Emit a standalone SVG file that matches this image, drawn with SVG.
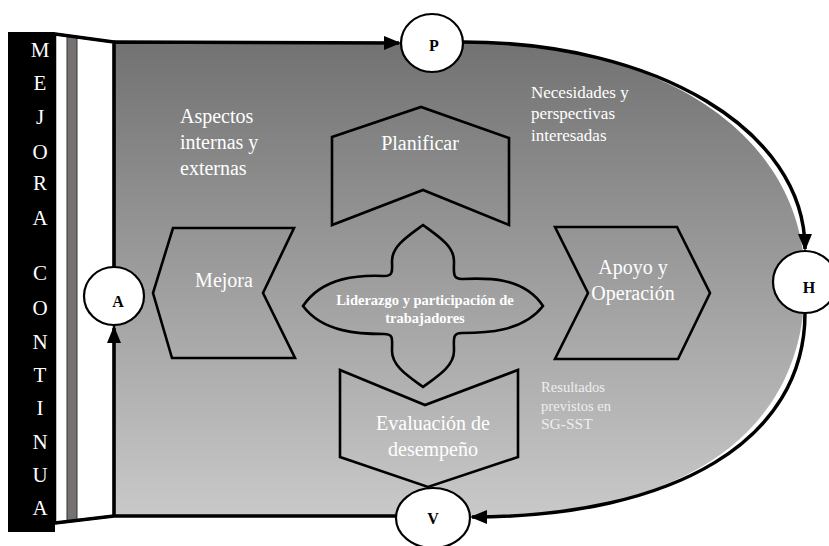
<svg xmlns="http://www.w3.org/2000/svg" width="829" height="546" viewBox="0 0 829 546" font-family="'Liberation Serif', Tinos, 'Times New Roman', serif">
<style>
text{font-family:'Liberation Serif', Tinos, 'Times New Roman', serif;fill:#fff}
.lbl{font-size:20px}
.bar{font-size:21px;text-anchor:middle}
.node{font-size:16px;font-weight:bold;fill:#000;text-anchor:middle}
.shape{fill:none;stroke:#000;stroke-width:2.6;stroke-linejoin:miter}
.circ{fill:#fff;stroke:#000;stroke-width:2.2}
.con{fill:none;stroke:#000;stroke-width:3.5}
</style>
<defs>
<linearGradient id="bg" x1="0" y1="42" x2="0" y2="517" gradientUnits="userSpaceOnUse">
<stop offset="0" stop-color="#727272"/>
<stop offset="1" stop-color="#c9c9c9"/>
</linearGradient>
<marker id="arr" markerUnits="userSpaceOnUse" markerWidth="20" markerHeight="16" refX="15" refY="7" orient="auto">
<path d="M0,0 L17,7 L0,14 Z" fill="#000"/>
</marker>
</defs>
<rect width="829" height="546" fill="#fff"/>
<g id="background">
<path d="M114,42 L463,42 C655,42 805,130 805,282 C805,440 675,517 470,517 L114,517 Z" fill="url(#bg)"/>
</g>
<g id="panel">
<polygon points="55,34 114,42 114,516 55,523" fill="#fff" stroke="#000" stroke-width="2.5"/>
<rect x="67" y="36" width="10" height="485" fill="#767272" stroke="#333" stroke-width="1"/>
</g>
<g id="mejora-continua">
<rect x="8" y="32" width="47" height="500" fill="#000"/>
<text class="bar" x="40" y="57">M</text>
<text class="bar" x="40" y="90">E</text>
<text class="bar" x="40" y="124">J</text>
<text class="bar" x="40" y="159">O</text>
<text class="bar" x="40" y="190">R</text>
<text class="bar" x="40" y="225">A</text>
<text class="bar" x="40" y="280">C</text>
<text class="bar" x="40" y="315">O</text>
<text class="bar" x="40" y="349">N</text>
<text class="bar" x="40" y="382">T</text>
<text class="bar" x="40" y="415">I</text>
<text class="bar" x="40" y="449">N</text>
<text class="bar" x="40" y="482">U</text>
<text class="bar" x="40" y="515">A</text>
</g>
<g id="connectors">
<path class="con" d="M114,517 L114,328" marker-end="url(#arr)"/>
<path class="con" d="M114,267 L114,42 L55,34 M114,42 L399,43" marker-end="url(#arr)"/>
<path class="con" d="M463,42 C655,42 805,130 805,249" marker-end="url(#arr)"/>
<path class="con" d="M805,313 C805,440 675,517 472,517" marker-end="url(#arr)"/>
<path class="con" d="M396,516 L114,516 L55,523"/>
</g>
<g id="aspectos">
<text class="lbl" x="180" y="123" font-size="19.5">Aspectos</text>
<text class="lbl" x="180" y="149" font-size="19.5">internas y</text>
<text class="lbl" x="180" y="175" font-size="19.5">externas</text>
</g>
<g id="necesidades">
<text x="531" y="98" font-size="17">Necesidades y</text>
<text x="531" y="119" font-size="17">perspectivas</text>
<text x="531" y="141" font-size="17">interesadas</text>
</g>
<g id="resultados">
<text x="541" y="392" font-size="14.6" style="fill:#eeeeee">Resultados</text>
<text x="541" y="411" font-size="14.6" style="fill:#eeeeee">previstos en</text>
<text x="541" y="429" font-size="15.5" style="fill:#eeeeee">SG-SST</text>
</g>
<g id="planificar">
<polygon class="shape" points="332,137 421,107 509,138 509,225 423,190 332,225"/>
<text class="lbl" x="420" y="150" text-anchor="middle">Planificar</text>
</g>
<g id="mejora">
<polygon class="shape" points="173,228 294,228 263,293 295,358 172,358 153,293"/>
<text class="lbl" x="224" y="287" text-anchor="middle">Mejora</text>
</g>
<g id="apoyo">
<polygon class="shape" points="555,227 677,227 710,293 678,359 555,359 588,293"/>
<text class="lbl" x="633" y="274" text-anchor="middle">Apoyo y</text>
<text class="lbl" x="633" y="300" text-anchor="middle">Operación</text>
</g>
<g id="evaluacion">
<polygon class="shape" points="340,370 425,405 518,370 518,457 428,487 340,457"/>
<text class="lbl" x="433" y="430" text-anchor="middle">Evaluación de</text>
<text class="lbl" x="433" y="456" text-anchor="middle">desempeño</text>
</g>
<g id="liderazgo">
<path class="shape" transform="translate(423,306)" d="M0,-81 C15,-70 31,-60 31,-45 C31,-34 29,-27 39,-27 C62,-28 100,-30 120,0 C100,26 62,27 39,27 C29,27 31,33 31,45 C31,60 15,70 0,81 C-15,70 -31,60 -31,45 C-31,33 -29,28 -39,28 C-62,28 -100,27 -120,0 C-100,-30 -62,-31 -39,-30 C-29,-30 -31,-36 -31,-45 C-31,-60 -15,-70 0,-81 Z"/>
<text x="425" y="305" font-size="14.5" font-weight="bold" text-anchor="middle">Liderazgo y participación de</text>
<text x="425" y="323" font-size="14.5" font-weight="bold" text-anchor="middle">trabajadores</text>
</g>
<g id="node-p">
<ellipse class="circ" cx="432" cy="43" rx="31" ry="29"/>
<text class="node" x="434" y="51">P</text>
</g>
<g id="node-h">
<ellipse class="circ" cx="805" cy="282" rx="32" ry="31"/>
<text class="node" x="809" y="293">H</text>
</g>
<g id="node-v">
<ellipse class="circ" cx="433" cy="518" rx="37" ry="30"/>
<text class="node" x="433" y="524">V</text>
</g>
<g id="node-a">
<ellipse class="circ" cx="114" cy="296" rx="30" ry="29"/>
<text class="node" x="118" y="307">A</text>
</g>
</svg>
